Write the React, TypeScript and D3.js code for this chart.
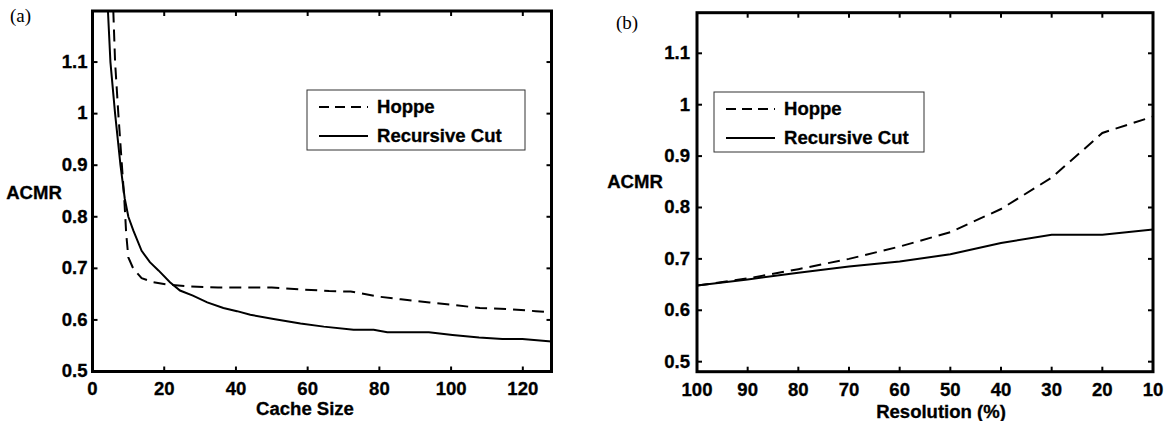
import React from 'react';
import * as d3 from 'd3';

// (a) ACMR vs cache size
const cacheHoppeX = [5.8, 6.3, 7.2, 8.2, 8.9, 9.4, 10, 11.4, 13.7, 17, 21.6, 27, 35, 50, 58.7, 66, 72, 80, 86, 94, 101, 108, 116, 123.6, 128];
const cacheHoppeY = [1.2, 1.1, 1.0, 0.9, 0.83, 0.767, 0.721, 0.699, 0.681, 0.673, 0.668, 0.665, 0.663, 0.663, 0.659, 0.656, 0.655, 0.645, 0.64, 0.634, 0.629, 0.623, 0.621, 0.617, 0.615];
const cacheCutX = [4.3, 5, 6.3, 7.8, 9, 10, 11.4, 13.7, 16, 18.4, 21.6, 24.4, 28, 32, 36.5, 40.3, 44, 50.5, 58, 64.5, 72.8, 78.4, 82.2, 86, 93.8, 100.4, 107.8, 114.3, 119.9, 128];
const cacheCutY = [1.2, 1.1, 1.0, 0.9, 0.835, 0.8, 0.773, 0.734, 0.712, 0.696, 0.673, 0.657, 0.647, 0.634, 0.623, 0.617, 0.61, 0.602, 0.593, 0.587, 0.581, 0.581, 0.576, 0.576, 0.576, 0.571, 0.566, 0.563, 0.563, 0.558];
const cacheTicks = [0, 20, 40, 60, 80, 100, 120];

// (b) ACMR vs resolution
const resolution = [100, 90, 80, 70, 60, 50, 40, 30, 20, 10];
const resHoppe = [0.648, 0.662, 0.68, 0.7, 0.724, 0.752, 0.797, 0.858, 0.945, 0.977];
const resCut = [0.648, 0.66, 0.673, 0.685, 0.695, 0.709, 0.731, 0.747, 0.747, 0.757];

const acmrTicks = [0.5, 0.6, 0.7, 0.8, 0.9, 1, 1.1];
const seriesNames = ['Hoppe', 'Recursive Cut'];

const SANS = "'Liberation Sans', Arial, Helvetica, sans-serif";
const SERIF = "'Liberation Serif', 'Times New Roman', serif";
const DASH = '12,7';
const fmt = d3.format('~g');

// bold sans text, slightly widened like the scanned original
function T({ x, y, size, anchor = 'start', children }: any) {
  return (
    <text
      transform={`translate(${x},${y}) scale(1.06,1)`}
      fontFamily={SANS}
      fontWeight="bold"
      fontSize={size}
      textAnchor={anchor}
      dominantBaseline="central"
      fill="#000"
      stroke="#000"
      strokeWidth={0.3}
    >
      {children}
    </text>
  );
}

function Panel({ id, x, y, xTicks, yTicks, series, legend, tag, yLabel, xLabel, fs }: any) {
  const [x0, x1] = x.range();
  const [y0, y1] = y.range();
  const tl = 5;
  const line = d3.line<[number, number]>().x(d => x(d[0])).y(d => y(d[1]));
  return (
    <g>
      <defs>
        <clipPath id={id}>
          <rect x={x0} y={y1} width={x1 - x0} height={y0 - y1} />
        </clipPath>
      </defs>
      <g clipPath={`url(#${id})`}>
        {series.map((s: any, i: number) => (
          <path key={i} d={line(s.pts) || ''} fill="none" stroke="#000" strokeWidth={2}
            strokeDasharray={s.dash ? DASH : undefined} />
        ))}
      </g>
      {/* ticks on all four sides */}
      {xTicks.map((t: number) => (
        <g key={'x' + t}>
          <line x1={x(t)} x2={x(t)} y1={y0} y2={y0 - tl} stroke="#000" strokeWidth={2} />
          <line x1={x(t)} x2={x(t)} y1={y1} y2={y1 + tl} stroke="#000" strokeWidth={2} />
          <T x={x(t)} y={y0 + 18} size={fs.tick} anchor="middle">{fmt(t)}</T>
        </g>
      ))}
      {yTicks.map((t: number) => (
        <g key={'y' + t}>
          <line x1={x0} x2={x0 + tl} y1={y(t)} y2={y(t)} stroke="#000" strokeWidth={2} />
          <line x1={x1} x2={x1 - tl} y1={y(t)} y2={y(t)} stroke="#000" strokeWidth={2} />
          <T x={x0 - fs.gap} y={y(t)} size={fs.tick} anchor="end">{fmt(t)}</T>
        </g>
      ))}
      <rect x={x0} y={y1} width={x1 - x0} height={y0 - y1} fill="none" stroke="#000" strokeWidth={3} />
      {/* legend */}
      <rect x={legend.x} y={legend.y} width={legend.w} height={legend.h} fill="#fff" stroke="#333" strokeWidth={1} />
      {seriesNames.map((n, i) => {
        const ly = legend.y + 17 + i * 29;
        return (
          <g key={n}>
            <line x1={legend.x + 12} x2={legend.x + 61} y1={ly} y2={ly} stroke="#000" strokeWidth={2}
              strokeDasharray={i === 0 ? '10,6' : undefined} />
            <T x={legend.x + 70} y={ly} size={fs.legend}>{n}</T>
          </g>
        );
      })}
      <text x={tag.x} y={tag.y} fontFamily={SERIF} fontSize={19} dominantBaseline="central">{tag.text}</text>
      <T x={yLabel.x} y={yLabel.y} size={fs.label} anchor="middle">ACMR</T>
      <T x={xLabel.x} y={xLabel.y} size={fs.label} anchor="middle">{xLabel.text}</T>
    </g>
  );
}

export default function App() {
  const xa = d3.scaleLinear().domain([0, 128]).range([92.5, 551.5]);
  const ya = d3.scaleLinear().domain([0.5, 1.199]).range([371.5, 11]);
  const xb = d3.scaleLinear().domain([100, 10]).range([697, 1153]);
  const yb = d3.scaleLinear().domain([0.4805, 1.179]).range([371.7, 12.7]);

  const seriesA = [
    { pts: cacheHoppeX.map((v, i) => [v, cacheHoppeY[i]]), dash: true },
    { pts: cacheCutX.map((v, i) => [v, cacheCutY[i]]), dash: false },
  ];
  const seriesB = [
    { pts: resolution.map((v, i) => [v, resHoppe[i]]), dash: true },
    { pts: resolution.map((v, i) => [v, resCut[i]]), dash: false },
  ];

  return (
    <svg width={1174} height={421} style={{ position: 'absolute', left: 0, top: 0, background: '#fff' }}>
      <Panel id="clipA" x={xa} y={ya} xTicks={cacheTicks} yTicks={acmrTicks} series={seriesA}
        legend={{ x: 307, y: 90, w: 218, h: 60 }}
        tag={{ x: 10, y: 15, text: '(a)' }}
        yLabel={{ x: 34, y: 193 }}
        xLabel={{ x: 305, y: 409, text: 'Cache Size' }}
        fs={{ tick: 17.5, legend: 17.5, label: 17.5, gap: 5 }} />
      <Panel id="clipB" x={xb} y={yb} xTicks={resolution} yTicks={acmrTicks} series={seriesB}
        legend={{ x: 714, y: 92, w: 210, h: 60 }}
        tag={{ x: 616, y: 22, text: '(b)' }}
        yLabel={{ x: 635, y: 182 }}
        xLabel={{ x: 941, y: 412, text: 'Resolution (%)' }}
        fs={{ tick: 17.5, legend: 17.5, label: 17.5, gap: 7 }} />
    </svg>
  );
}
